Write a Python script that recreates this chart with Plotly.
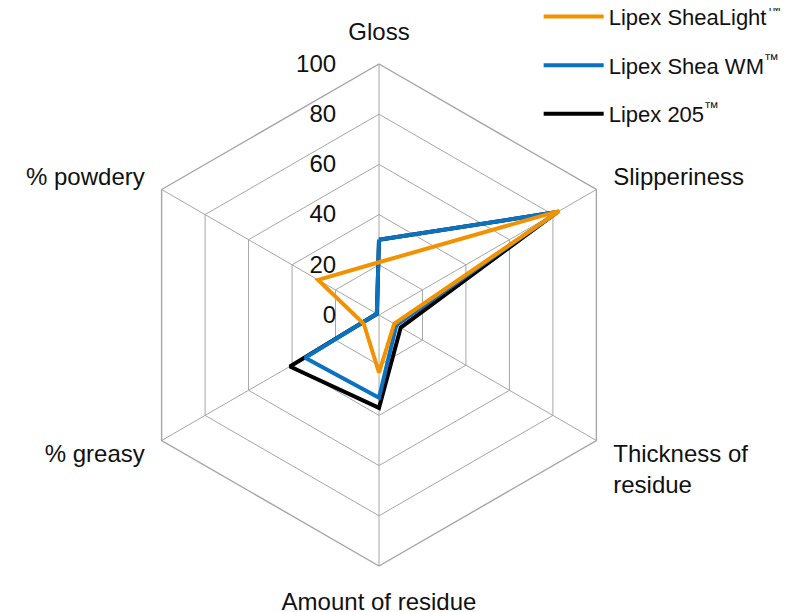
import plotly.graph_objects as go

categories = ["Gloss", "Slipperiness", "Thickness of<br>residue", "Amount of residue", "% greasy<br>\u00a0", "% powdery"]
shealight = [21, 83, 7, 23, 7, 28]
shea_wm = [30, 82, 8, 33, 34, 1]
lipex205 = [30, 82, 10, 37, 41, 1]
radial_ticks = [0, 20, 40, 60, 80, 100]

def closed(v):
    return v + [v[0]]

cats = closed(categories)

fig = go.Figure()
fig.add_trace(go.Scatterpolar(r=closed(lipex205), theta=cats, mode="lines", legendgroup="c", legendrank=3,
                              name="Lipex 205<sup>™</sup>", line=dict(color="#000000", width=4)))
fig.add_trace(go.Scatterpolar(r=closed(shea_wm), theta=cats, mode="lines", legendgroup="b", legendrank=2,
                              name="Lipex Shea WM<sup>™</sup>", line=dict(color="#0a72c0", width=4)))
fig.add_trace(go.Scatterpolar(r=closed(shealight), theta=cats, mode="lines", legendgroup="a", legendrank=1,
                              name="Lipex SheaLight<sup>™\u00a0\u00a0</sup>", line=dict(color="#f39200", width=4)))

grid = "#a6a6a6"
fig.update_layout(
    width=798, height=612,
    margin=dict(l=0, r=0, t=0, b=0, autoexpand=False),
    paper_bgcolor="white",
    font=dict(family="Liberation Sans, Arial, sans-serif", size=24, color="#111111"),
    polar=dict(
        domain=dict(x=[120/798, 622/798], y=[54/612, 556/612]),
        gridshape="linear",
        bgcolor="white",
        radialaxis=dict(range=[0, 100], tickvals=radial_ticks, angle=90, tickangle=90,
                        side="counterclockwise",
                        showline=False, ticks="outside", ticklen=34, tickcolor="rgba(0,0,0,0)",
                        gridcolor=grid, gridwidth=1.4,
                        tickfont=dict(size=24, color="#111111")),
        angularaxis=dict(rotation=90, direction="clockwise", showline=True,
                         linecolor=grid, linewidth=1.4, gridcolor=grid, gridwidth=1.4,
                         ticks="outside", ticklen=14, tickcolor="rgba(0,0,0,0)",
                         tickfont=dict(size=24, color="#111111")),
    ),
    legend=dict(x=0.665, y=1.02, xanchor="left", yanchor="top", traceorder="grouped",
                font=dict(size=22), tracegroupgap=17, itemwidth=60),
    showlegend=True,
)

fig.write_html("out.html")
